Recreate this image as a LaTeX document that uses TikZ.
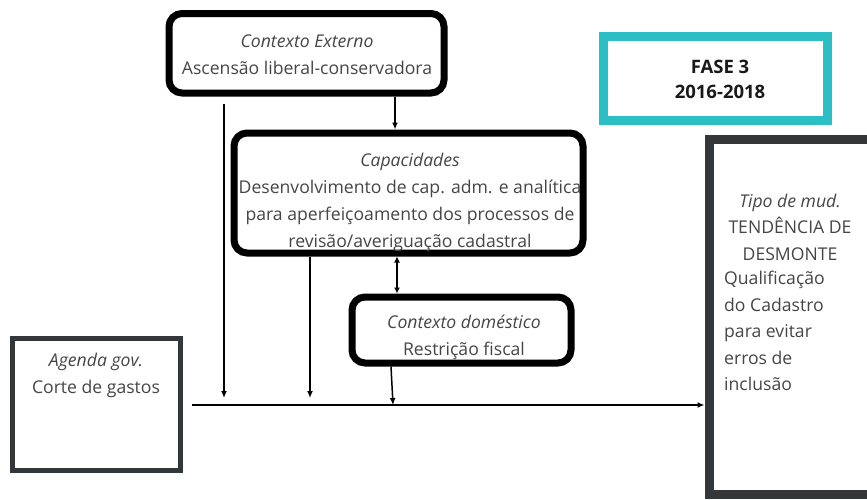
\documentclass[tikz,border=0pt]{standalone}
\usepackage{fontspec}
\setmainfont{Open Sans}
\usetikzlibrary{arrows.meta}
\definecolor{txtgray}{HTML}{454545}
\definecolor{boxgray}{HTML}{33373A}
\definecolor{teal}{HTML}{2BBFC5}
\tikzset{
  roundbox/.style={draw=black, line width=7pt, rounded corners=13pt, minimum width=#1},
  graybox/.style={draw=boxgray, line width=5pt},
  txt/.style={text=txtgray, align=center, inner sep=0pt, font=\fontsize{17.6}{27}\selectfont},
  arr/.style={line width=1.5pt, -{Latex[length=7pt,width=6pt]}},
  darr/.style={line width=1.5pt, {Latex[length=6pt,width=6pt]}-{Latex[length=6pt,width=6pt]}},
}
\begin{document}
\begin{tikzpicture}[x=1pt,y=-1pt]
\useasboundingbox (0,0) rectangle (867,499);
\clip (0,0) rectangle (867,499);
% boxes
\node[roundbox=275pt, minimum height=79.5pt] (ext) at (306.5,53.25) {};
\node[txt] (exttxt) at (307,55) {\textit{Contexto Externo}\\Ascensão liberal-conservadora};
\node[roundbox=349pt, minimum height=120pt] (cap) at (408.5,193) {};
\node[txt] (captxt) at (410,202) {\textit{Capacidades}\\Desenvolvimento de cap. adm. e analítica\\para aperfeiçoamento dos processos de\\revisão/averiguação cadastral};
\node[roundbox=219pt, minimum height=66pt] (dom) at (461.5,330) {};
\node[txt] (domtxt) at (464,337) {\textit{Contexto doméstico}\\Restrição fiscal};
\node[graybox, minimum width=168pt, minimum height=132pt] (agenda) at (96.5,404.5) {};
\node[txt] (agtxt) at (96,375) {\textit{Agenda gov.}\\Corte de gastos};
\node[draw=teal, line width=9pt, minimum width=224pt, minimum height=84pt] (fase) at (715.5,78.5) {};
\node[txt, font=\fontsize{18.5}{25}\selectfont\bfseries, text=black!90] (fasetxt) at (720,79.5) {FASE 3\\2016-2018};
\node[draw=boxgray, line width=9pt, minimum width=171pt, minimum height=355pt] (tipo) at (794.5,316.5) {};
\node[txt, font=\fontsize{17.6}{26.5}\selectfont] (tipotxt) at (790,227) {\textit{Tipo de mud.}\\TENDÊNCIA DE\\DESMONTE};
\node[txt, font=\fontsize{17.6}{26.5}\selectfont, align=left, anchor=north west] (tipotxt2) at (724,271) {Qualificação\\do Cadastro\\para evitar\\erros de\\inclusão};
% coordinates
\coordinate (c1) at (395,0);
\coordinate (l1top) at (224,104);
\coordinate (l1bot) at (224,398);
\coordinate (c2) at (310,0);
\coordinate (l2bot) at (310,398);
\coordinate (c3) at (397,0);
\coordinate (c4) at (391,0);
\coordinate (l4bot) at (393,405);
\coordinate (hstart) at (192,405);
% connectors
\draw[arr] (ext.south -| c1) -- (cap.north -| c1);
\draw[arr] (l1top) -- (l1bot);
\draw[arr] (cap.south -| c2) -- (l2bot);
\draw[darr] (cap.south -| c3) -- (dom.north -| c3);
\draw[arr] (dom.south -| c4) -- (l4bot);
\draw[arr] (hstart) -- (hstart -| tipo.west);
\end{tikzpicture}
\end{document}
